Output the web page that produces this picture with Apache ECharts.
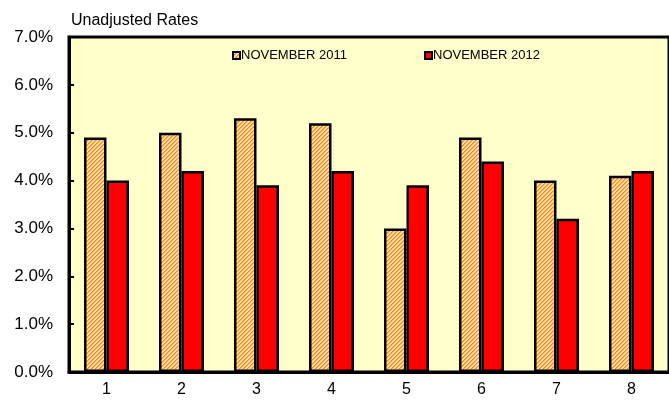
<!DOCTYPE html>
<html>
<head>
<meta charset="utf-8">
<script src="https://cdn.jsdelivr.net/npm/echarts@6/dist/echarts.min.js"></script>
<style>
  html, body { margin: 0; padding: 0; background: #ffffff; }
  #chart { width: 669px; height: 405px; }
</style>
</head>
<body>
<div id="chart"></div>
<script>
// Regions and unemployment rates (percent)
const categories = ['1', '2', '3', '4', '5', '6', '7', '8'];
const nov2011 = [4.9, 5.0, 5.3, 5.2, 3.0, 4.9, 4.0, 4.1];
const nov2012 = [4.0, 4.2, 3.9, 4.2, 3.9, 4.4, 3.2, 4.2];
const seriesNames = ['NOVEMBER 2011', 'NOVEMBER 2012'];
const yTicks = [0, 1, 2, 3, 4, 5, 6, 7];

// Diagonal hatch fill for the 2011 bars
function hatchPattern() {
  const c = document.createElement('canvas');
  c.width = 4; c.height = 4;
  const g = c.getContext('2d');
  g.fillStyle = '#ffe592';
  g.fillRect(0, 0, 4, 4);
  for (let i = 0; i < 4; i++) {
    g.fillStyle = '#f77f3c';
    g.fillRect(i, 3 - i, 1, 1);
    g.fillStyle = '#fba860';
    g.fillRect((i + 1) % 4, 3 - i, 1, 1);
  }
  return c;
}

const chart = echarts.init(document.getElementById('chart'), null, { renderer: 'canvas' });
const font = 'Liberation Sans, Arial, sans-serif';

chart.setOption({
  animation: false,
  backgroundColor: '#ffffff',
  title: {
    text: 'Unadjusted Rates',
    left: 66, top: 8,
    textStyle: { fontFamily: font, fontSize: 16, fontWeight: 'normal', color: '#000' }
  },
  legend: [
    {
      data: [seriesNames[0]], left: 227, top: 44,
      icon: 'rect', itemWidth: 7, itemHeight: 7, itemGap: 2,
      itemStyle: { borderColor: '#000', borderWidth: 2 },
      textStyle: { fontFamily: font, fontSize: 13, color: '#000', padding: [0, 0, 0, -4] }
    },
    {
      data: [seriesNames[1]], left: 419, top: 44,
      icon: 'rect', itemWidth: 7, itemHeight: 7, itemGap: 2,
      itemStyle: { borderColor: '#000', borderWidth: 2 },
      textStyle: { fontFamily: font, fontSize: 13, color: '#000', padding: [0, 0, 0, -4] }
    }
  ],
  grid: {
    left: 69, top: 37, right: -5, bottom: 33,
    show: true, backgroundColor: '#ffffcc',
    borderColor: '#000', borderWidth: 3
  },
  xAxis: {
    type: 'category',
    data: categories,
    axisLine: { show: true, lineStyle: { color: '#000', width: 3 } },
    axisTick: { show: false },
    axisLabel: { fontFamily: font, fontSize: 16, color: '#000', margin: 10 }
  },
  yAxis: {
    type: 'value',
    min: yTicks[0], max: yTicks[yTicks.length - 1], interval: 1,
    splitLine: { show: false },
    axisLine: { show: true, lineStyle: { color: '#000', width: 3 } },
    axisTick: { show: true, inside: true, length: 5, lineStyle: { color: '#000', width: 2 } },
    axisLabel: {
      fontFamily: font, fontSize: 17, color: '#000', margin: 16,
      formatter: v => v.toFixed(1) + '%'
    }
  },
  series: [
    {
      name: seriesNames[0], type: 'bar', data: nov2011,
      barGap: '0%', barCategoryGap: '40%',
      itemStyle: { color: { image: hatchPattern(), repeat: 'repeat' }, borderColor: '#000', borderWidth: 2.5 }
    },
    {
      name: seriesNames[1], type: 'bar', data: nov2012,
      itemStyle: { color: '#ff0000', borderColor: '#000', borderWidth: 2.5 }
    }
  ]
});
</script>
</body>
</html>
